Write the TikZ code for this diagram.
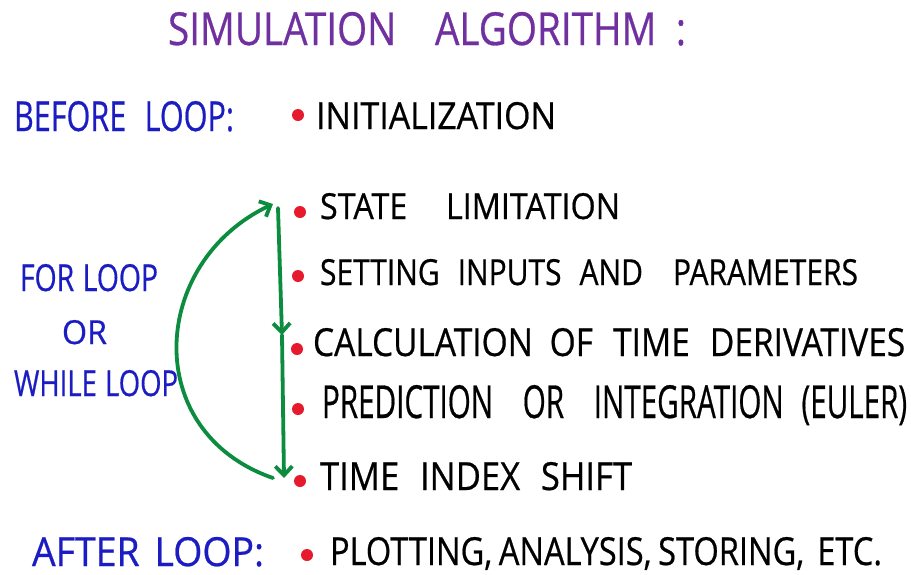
\documentclass[tikz,border=0pt]{standalone}
\usepackage{fontspec}
\setmainfont{Open Sans}[FakeBold=0.6]
\usetikzlibrary{arrows.meta}
\definecolor{ttl}{RGB}{112,48,160}
\definecolor{lbl}{RGB}{28,28,195}
\definecolor{dotc}{RGB}{230,25,45}
\definecolor{arr}{RGB}{12,140,62}
\newcommand\hw[3]{\resizebox{#1pt}{#2pt}{#3}}
\tikzset{
  txt/.style={anchor=base west, inner sep=0pt, outer sep=0pt},
  dotmark/.style={circle, fill=dotc, inner sep=0pt, minimum size=12pt},
  loopline/.style={draw=arr, line width=3.8pt, line cap=round,
    -{Straight Barb[length=9pt,width=17pt,line width=3.8pt]}}
}
\begin{document}
\begin{tikzpicture}[x=1pt,y=-1pt]
\useasboundingbox[fill=white] (0,0) rectangle (911,574);
% title
\node[txt, text=ttl] (title) at (168,45) {\hw{518}{33}{SIMULATION\hspace{1em}ALGORITHM\hspace{0.5em}:}};
% left labels
\node[txt, text=lbl] (before) at (14,131) {\hw{220}{30}{BEFORE\hspace{0.6em}LOOP:}};
\node[txt, text=lbl] (forl) at (20,291) {\hw{138}{27}{FOR\hspace{0.3em}LOOP}};
\node[txt, text=lbl] (orl) at (62,344) {\hw{45}{24}{OR}};
\node[txt, text=lbl] (whilel) at (14,396) {\hw{164}{26}{WHILE\hspace{0.3em}LOOP}};
\node[txt, text=lbl] (after) at (32,566) {\hw{232}{29}{AFTER\hspace{0.4em}LOOP:}};
% bullets
\node[dotmark] (d1) at (298,115) {};
\node[dotmark] (d2) at (300,212) {};
\node[dotmark] (d3) at (298,276) {};
\node[dotmark] (d4) at (297,349) {};
\node[dotmark] (d5) at (298,409) {};
\node[dotmark] (d6) at (300,481) {};
\node[dotmark] (d7) at (307,555) {};
% items
\node[txt] (t1) at (316,129) {\hw{240}{27}{INITIALIZATION}};
\node[txt] (t2) at (320,219) {\hw{300}{26}{STATE\hspace{1.2em}LIMITATION}};
\node[txt] (t3) at (320,285) {\hw{538}{26}{SETTING\hspace{0.6em}INPUTS\hspace{0.6em}AND\hspace{1em}PARAMETERS}};
\node[txt] (t4) at (313,356) {\hw{592}{28}{CALCULATION\hspace{0.5em}OF\hspace{0.6em}TIME\hspace{0.6em}DERIVATIVES}};
\node[txt] (t5) at (322,418) {\hw{585}{33}{PREDICTION\hspace{1em}OR\hspace{1em}INTEGRATION\hspace{0.6em}(EULER)}};
\node[txt] (t6) at (320,490) {\hw{312}{28}{TIME\hspace{0.6em}INDEX\hspace{0.6em}SHIFT}};
\node[txt] (t7) at (330,565) {\hw{552}{28}{PLOTTING,\hspace{0.2em}ANALYSIS,\hspace{0.2em}STORING,\hspace{0.4em}ETC.}};
% loop arrows
\coordinate (vtop) at (278,208);
\coordinate (vmid) at (282,335);
\coordinate (vbot) at (284,478);
\coordinate (cstart) at (273,478);
\coordinate (cend) at (273,204);
\draw[loopline] (vtop) -- (vmid);
\draw[loopline] (vmid) -- (vbot);
\draw[loopline] (cstart) .. controls (140,432) and (150,262) .. (cend);
\end{tikzpicture}
\end{document}
